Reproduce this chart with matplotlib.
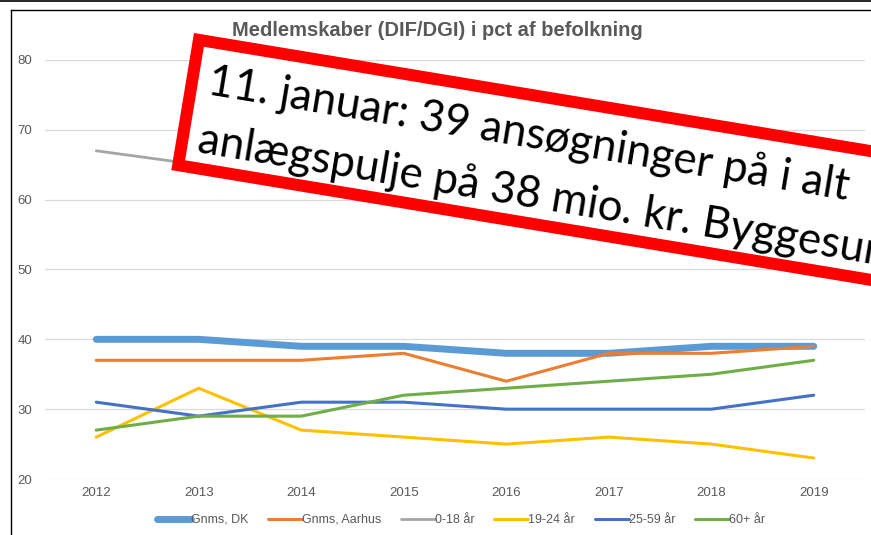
import numpy as np
import matplotlib
matplotlib.use("Agg")
import matplotlib.pyplot as plt
from matplotlib.patches import Polygon
from matplotlib.lines import Line2D

years = ["2012", "2013", "2014", "2015", "2016", "2017", "2018", "2019"]
gnms_dk = [40, 40, 39, 39, 38, 38, 39, 39]
gnms_aarhus = [37, 37, 37, 38, 34, 38, 38, 39]
age_0_18 = [67, 65, 66, 66, 65, 67, 68, 69]
age_19_24 = [26, 33, 27, 26, 25, 26, 25, 23]
age_25_59 = [31, 29, 31, 31, 30, 30, 30, 32]
age_60 = [27, 29, 29, 32, 33, 34, 35, 37]
series_labels = ["Gnms, DK", "Gnms, Aarhus", "0-18 år", "19-24 år", "25-59 år", "60+ år"]
series_colors = ["#5B9BD5", "#ED7D31", "#A5A5A5", "#FFC000", "#4472C4", "#70AD47"]
series_widths = [5.0, 2.2, 2.0, 2.2, 2.2, 2.2]
yticks = [20, 30, 40, 50, 60, 70, 80]
title = "Medlemskaber (DIF/DGI) i pct af befolkning"
banner_lines = ["11. januar: 39 ansøgninger på i alt",
                "anlægspulje på 38 mio. kr. Byggesum"]

W, H = 871, 535
fig = plt.figure(figsize=(W / 100, H / 100), dpi=100)
fig.patch.set_facecolor("white")

ax = fig.add_axes([45 / W, (H - 479) / H, 820 / W, 419 / H])
x = np.arange(len(years))
all_series = [gnms_dk, gnms_aarhus, age_0_18, age_19_24, age_25_59, age_60]
for vals, lab, col, lw in zip(all_series, series_labels, series_colors, series_widths):
    ax.plot(x, vals, color=col, lw=lw, label=lab, solid_capstyle="round",
            solid_joinstyle="round")

ax.set_xlim(-0.5, len(years) - 0.5)
ax.set_ylim(20, 80)
ax.set_yticks(yticks)
ax.set_xticks(x)
ax.set_xticklabels(years)
ax.grid(axis="y", color="#D9D9D9", lw=0.9)
ax.set_axisbelow(True)
for s in ax.spines.values():
    s.set_visible(False)
ax.tick_params(axis="both", length=0, colors="#595959", labelsize=9.5,
               labelfontfamily="Liberation Sans")
ax.tick_params(axis="y", pad=9)
ax.tick_params(axis="x", pad=6)

fig.text(437 / W, 1 - 30 / H, title, ha="center", va="center",
         fontsize=14.5, fontweight="bold", color="#595959", family="Liberation Sans")

leg = fig.legend(loc="center", bbox_to_anchor=(461 / W, 1 - 520 / H), ncol=6,
                 frameon=False, handlelength=2.7, handletextpad=0.0,
                 columnspacing=1.6, prop={"family": "Liberation Sans", "size": 9})
for t in leg.get_texts():
    t.set_color("#595959")

# frame lines of the screenshot
fig.add_artist(Line2D([0, 1], [1 - 0.8 / H, 1 - 0.8 / H], color="black", lw=1.2,
                      transform=fig.transFigure))
fig.add_artist(Line2D([10.5 / W, 1], [1 - 9.5 / H, 1 - 9.5 / H], color="black", lw=1.0,
                      transform=fig.transFigure))
fig.add_artist(Line2D([10.5 / W, 10.5 / W], [0, 1 - 9.5 / H], color="black", lw=1.0,
                      transform=fig.transFigure))

# red banner overlay
ov = fig.add_axes([0, 0, 1, 1], zorder=10)
ov.set_xlim(0, W)
ov.set_ylim(H, 0)
ov.axis("off")
ov.patch.set_alpha(0)

theta = np.deg2rad(9.4)
U = np.array([np.cos(theta), np.sin(theta)])
V = np.array([-np.sin(theta), np.cos(theta)])
P0 = np.array([194.0, 33.0])
bw = 12.0
C0 = P0 + (bw / 2) * U + (bw / 2) * V
Lw, Hh = 1000.0, 139.0 - bw
corners = [C0, C0 + Lw * U, C0 + Lw * U + Hh * V, C0 + Hh * V]
ov.add_patch(Polygon(corners, closed=True, facecolor="white", edgecolor="#FF0000",
                     lw=bw * 72 / 100, joinstyle="miter"))

fam = "Lato"
renderer = fig.canvas.get_renderer()
tmp = ov.text(0, 0, banner_lines[0], fontsize=30, family=fam)
wpx = tmp.get_window_extent(renderer).width
tmp.remove()
fs = 30 * 648 / wpx
for i, (line, vo) in enumerate(zip(banner_lines, [58.0, 117.0])):
    p = P0 + 22.0 * U + vo * V
    ov.text(p[0], p[1], line, fontsize=fs, family=fam,
            color="black", rotation=-np.rad2deg(theta), rotation_mode="anchor",
            ha="left", va="baseline", clip_on=True)

fig.savefig("out.png", dpi=100)
